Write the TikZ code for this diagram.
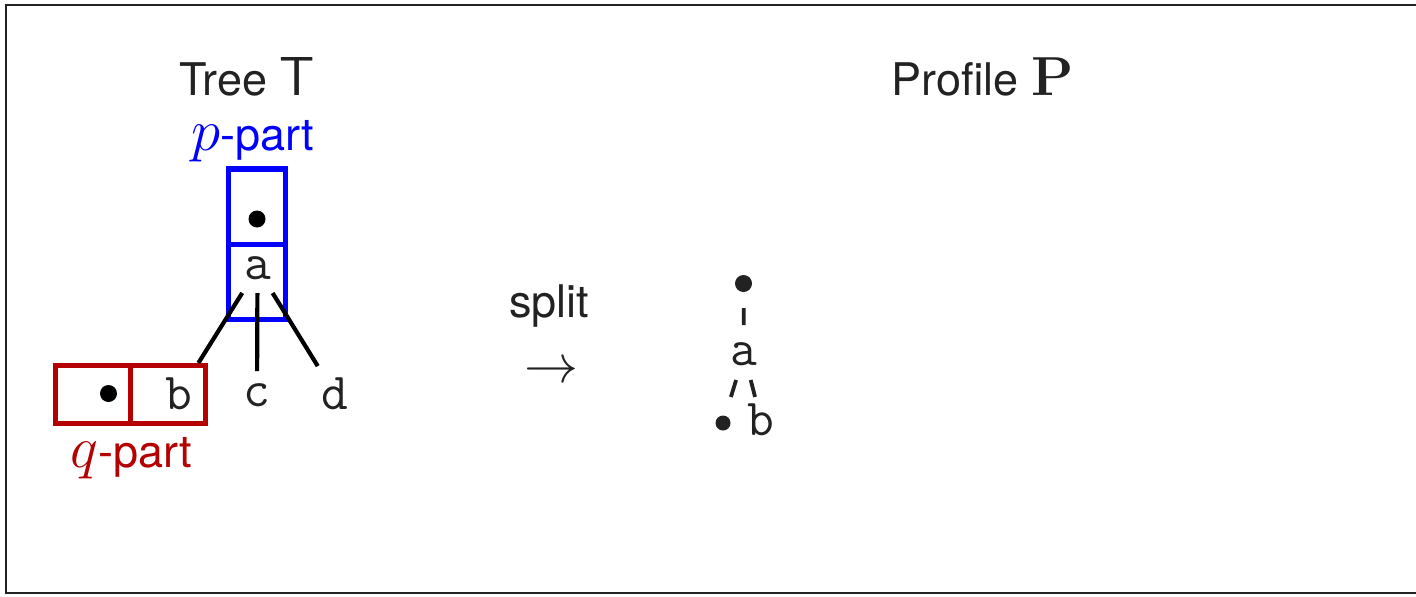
\RequirePackage{fix-cm}
\documentclass[tikz,border=0pt]{standalone}
\usepackage{amsmath}
\usepackage{amssymb}
\usepackage[no-math]{fontspec}
\setmainfont{TeX Gyre Heros}
\usepackage{tikz}
\usepackage{xcolor}

\definecolor{ppart}{RGB}{0,0,255}
\definecolor{qpart}{RGB}{180,0,0}
\definecolor{ink}{RGB}{34,34,34}

\newcommand{\lbl}{\fontsize{22.5}{26}\selectfont}
\newcommand{\mathbig}{\fontsize{27.5}{30}\selectfont}
\newcommand{\mathvar}{\fontsize{29.5}{32}\selectfont}
\newcommand{\arrsize}{\fontsize{27}{30}\selectfont}
\newcommand{\letr}{\fontsize{26}{28}\selectfont\ttfamily}

\begin{document}
\begin{tikzpicture}[x=0.5pt,y=-0.5pt,
        lbltext/.style={anchor=base west,inner sep=0pt,text=ink,font=\lbl},
        cellp/.style={draw=ppart,line width=2.8pt,minimum width=28.5pt,inner sep=0pt},
        cellq/.style={draw=qpart,line width=2.5pt,minimum width=37.7pt,minimum height=29pt,inner sep=0pt},
        nodedot/.style={circle,fill=black,minimum size=8.5pt,inner sep=0pt},
        tletter/.style={inner sep=0pt,text=ink,font=\letr},
        tedge/.style={line width=2.1pt,shorten <=14.4pt},
        pedge/.style={line width=1.9pt,draw=ink}]
        \useasboundingbox (0,0) rectangle (1416,596);

        % frame, open on the right
        \draw[line width=1pt,ink] (1420,5) -- (6,5) -- (6,593) -- (1420,593);

        % titles
        \node[lbltext] (ttree) at (179,95) {Tree {\mathbig$\mathsf{T}$}};
        \node[lbltext] (tprof) at (891,95) {Profile {\mathbig$\mathbf{P}$}};

        % p-part of the tree
        \node[cellp,minimum height=37.65pt] (pc1) at (257,206.9) {};
        \node[cellp,minimum height=37.5pt] (pc2) at (257,282) {};
        \node[nodedot] (pd) at (257,219) {};
        \node[tletter] (ta) at (257.5,268.5) {a};
        \node[lbltext,text=ppart] (plab) at (191,150) {{\mathvar$p$}-part};

        % q-part of the tree
        \node[cellq] (qc1) at (92.75,394.3) {};
        \node[cellq] (qc2) at (168,394.3) {};
        \node[nodedot] (qd) at (108.5,393.5) {};
        \node[tletter] (tb) at (179,394) {b};
        \node[lbltext,text=qpart] (qlab) at (70,467) {{\mathvar$q$}-part};

        % other children
        \node[tletter] (tc) at (257,395) {c};
        \node[tletter] (td) at (335,394) {d};

        % tree edges
        \draw[tedge,shorten >=18.3pt] (ta.center) -- (tb.center);
        \draw[tedge,shorten <=12.25pt,shorten >=12pt] (ta.center) -- (tc.center);
        \draw[tedge,shorten >=16.4pt] (ta.center) -- (td.center);

        % split step
        \node[lbltext] (split) at (509,317) {split};
        \node[inner sep=0pt,text=ink] (arr) at (551,373) {\arrsize$\rightarrow$};

        % profile
        \node[nodedot,fill=ink] (fd1) at (743.5,283.5) {};
        \node[tletter] (fa) at (744,354) {a};
        \node[nodedot,fill=ink,minimum size=7.5pt] (fd2) at (723,423) {};
        \node[tletter] (fb) at (761,420) {b};
        \draw[pedge,shorten <=12.25pt,shorten >=14.5pt] (fd1.center) -- (fa.center);
        \draw[pedge,shorten <=13.6pt,shorten >=13.6pt] (fa.center) -- (fd2.center);
        \draw[pedge,shorten <=13.4pt,shorten >=11.9pt] (fa.center) -- (fb.center);
\end{tikzpicture}
\end{document}
